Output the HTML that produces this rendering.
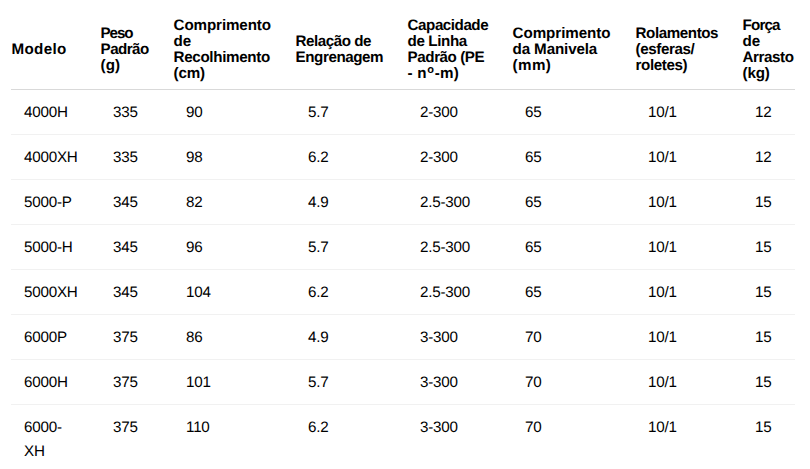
<!DOCTYPE html>
<html><head><meta charset="utf-8">
<style>
html,body{margin:0;padding:0;background:#fff;}
body{width:810px;height:469px;overflow:hidden;position:relative;font-family:"Liberation Sans",sans-serif;color:#000;text-rendering:geometricPrecision;}
table{position:absolute;left:11px;top:9px;width:784px;border-collapse:collapse;table-layout:fixed;}
th{font-weight:bold;font-size:15.2px;line-height:16px;text-align:left;vertical-align:middle;padding:9px 0 7px 0.6px;white-space:nowrap;border-bottom:1px solid #d9d9d9;}
td{font-size:15.2px;line-height:24px;text-align:left;vertical-align:top;padding:11px 0 9px 13.1px;letter-spacing:-0.25px;white-space:nowrap;border-bottom:1px solid #f1f1f1;}
tr:last-child td{border-bottom:none;}
.l{display:block;height:16px;}
.k{display:block;height:24px;}
sup{font-size:11px;line-height:0;vertical-align:5px;margin:0 0.5px;}
</style></head><body>
<table>
<colgroup><col style="width:89px"><col style="width:73px"><col style="width:122px"><col style="width:112px"><col style="width:105px"><col style="width:123px"><col style="width:107px"><col style="width:53px"></colgroup>
<thead><tr>
<th><span class="l"><span style="letter-spacing:0.3px">Modelo</span></span></th>
<th><span class="l"><span style="letter-spacing:-1.13px">Peso</span></span><span class="l"><span style="letter-spacing:-0.58px">Padrão</span></span><span class="l"><span style="letter-spacing:0.05px">(g)</span></span></th>
<th><span class="l"><span style="letter-spacing:-0.13px">Comprimento</span></span><span class="l"><span style="letter-spacing:-0.1px">de</span></span><span class="l"><span style="letter-spacing:-0.34px">Recolhimento</span></span><span class="l"><span style="letter-spacing:-0.23px">(cm)</span></span></th>
<th><span class="l"><span style="letter-spacing:-0.48px">Relação de</span></span><span class="l"><span style="letter-spacing:-0.44px">Engrenagem</span></span></th>
<th><span class="l"><span style="letter-spacing:-0.47px">Capacidade</span></span><span class="l"><span style="letter-spacing:-0.4px">de Linha</span></span><span class="l"><span style="letter-spacing:-0.44px">Padrão (PE</span></span><span class="l"><span style="letter-spacing:0.2px">- n<sup>o</sup>-m)</span></span></th>
<th><span class="l"><span style="letter-spacing:-0.08px">Comprimento</span></span><span class="l"><span style="letter-spacing:-0.14px">da Manivela</span></span><span class="l"><span style="letter-spacing:0.4px">(mm)</span></span></th>
<th><span class="l"><span style="letter-spacing:-0.44px">Rolamentos</span></span><span class="l"><span style="letter-spacing:-0.42px">(esferas/</span></span><span class="l"><span style="letter-spacing:-0.4px">roletes)</span></span></th>
<th><span class="l"><span style="letter-spacing:-0.88px">Força</span></span><span class="l"><span style="letter-spacing:-0.2px">de</span></span><span class="l"><span style="letter-spacing:-0.45px">Arrasto</span></span><span class="l"><span style="letter-spacing:-0.2px">(kg)</span></span></th>
</tr></thead>
<tbody>
<tr><td><span class="k"><span>4000H</span></span></td><td><span class="k"><span>335</span></span></td><td><span class="k"><span>90</span></span></td><td><span class="k"><span>5.7</span></span></td><td><span class="k"><span>2-300</span></span></td><td><span class="k"><span>65</span></span></td><td><span class="k"><span>10/1</span></span></td><td><span class="k"><span>12</span></span></td></tr>
<tr><td><span class="k"><span>4000XH</span></span></td><td><span class="k"><span>335</span></span></td><td><span class="k"><span>98</span></span></td><td><span class="k"><span>6.2</span></span></td><td><span class="k"><span>2-300</span></span></td><td><span class="k"><span>65</span></span></td><td><span class="k"><span>10/1</span></span></td><td><span class="k"><span>12</span></span></td></tr>
<tr><td><span class="k"><span>5000-P</span></span></td><td><span class="k"><span>345</span></span></td><td><span class="k"><span>82</span></span></td><td><span class="k"><span>4.9</span></span></td><td><span class="k"><span>2.5-300</span></span></td><td><span class="k"><span>65</span></span></td><td><span class="k"><span>10/1</span></span></td><td><span class="k"><span>15</span></span></td></tr>
<tr><td><span class="k"><span>5000-H</span></span></td><td><span class="k"><span>345</span></span></td><td><span class="k"><span>96</span></span></td><td><span class="k"><span>5.7</span></span></td><td><span class="k"><span>2.5-300</span></span></td><td><span class="k"><span>65</span></span></td><td><span class="k"><span>10/1</span></span></td><td><span class="k"><span>15</span></span></td></tr>
<tr><td><span class="k"><span>5000XH</span></span></td><td><span class="k"><span>345</span></span></td><td><span class="k"><span>104</span></span></td><td><span class="k"><span>6.2</span></span></td><td><span class="k"><span>2.5-300</span></span></td><td><span class="k"><span>65</span></span></td><td><span class="k"><span>10/1</span></span></td><td><span class="k"><span>15</span></span></td></tr>
<tr><td><span class="k"><span>6000P</span></span></td><td><span class="k"><span>375</span></span></td><td><span class="k"><span>86</span></span></td><td><span class="k"><span>4.9</span></span></td><td><span class="k"><span>3-300</span></span></td><td><span class="k"><span>70</span></span></td><td><span class="k"><span>10/1</span></span></td><td><span class="k"><span>15</span></span></td></tr>
<tr><td><span class="k"><span>6000H</span></span></td><td><span class="k"><span>375</span></span></td><td><span class="k"><span>101</span></span></td><td><span class="k"><span>5.7</span></span></td><td><span class="k"><span>3-300</span></span></td><td><span class="k"><span>70</span></span></td><td><span class="k"><span>10/1</span></span></td><td><span class="k"><span>15</span></span></td></tr>
<tr><td><span class="k"><span>6000-</span></span><span class="k"><span>XH</span></span></td><td><span class="k"><span>375</span></span></td><td><span class="k"><span>110</span></span></td><td><span class="k"><span>6.2</span></span></td><td><span class="k"><span>3-300</span></span></td><td><span class="k"><span>70</span></span></td><td><span class="k"><span>10/1</span></span></td><td><span class="k"><span>15</span></span></td></tr>
</tbody>
</table>
</body></html>
